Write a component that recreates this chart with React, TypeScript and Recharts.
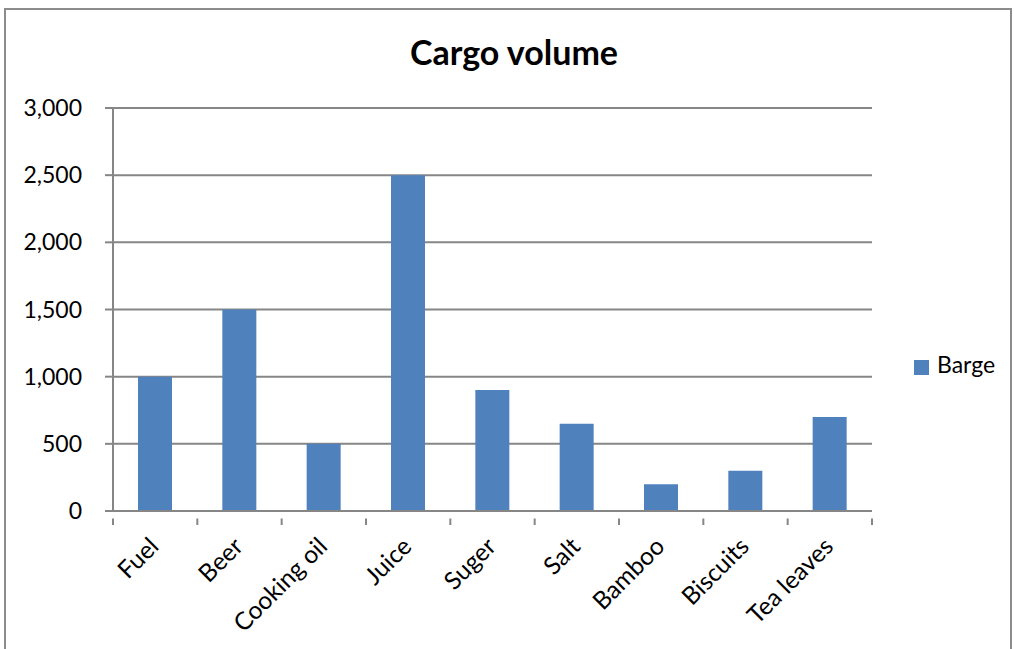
import React from 'react'
import { BarChart, Bar, XAxis, YAxis, CartesianGrid, Legend } from 'recharts'

const categories = ['Fuel', 'Beer', 'Cooking oil', 'Juice', 'Suger', 'Salt', 'Bamboo', 'Biscuits', 'Tea leaves']
const bargeValues = [1000, 1500, 500, 2500, 900, 650, 200, 300, 700]
const yTicks = [0, 500, 1000, 1500, 2000, 2500, 3000]

const data = categories.map((name, i) => ({ name, Barge: bargeValues[i] }))

const FONT = 'Lato, "Open Sans", sans-serif'
const GRID = '#868686'
const BAR = '#4F81BD'

// plot area in page pixels
const LEFT = 113
const RIGHT = 872
const TOP = 108
const BOTTOM = 511
const BAND = (RIGHT - LEFT) / categories.length
const LEGEND_W = 100

// Excel puts tick marks between categories, so draw them in the tick renderer
function CategoryTick(props: any) {
  const { x, y, payload, index } = props
  const last = index === categories.length - 1
  return (
    <g>
      <line x1={x - BAND / 2} y1={y - 0.5} x2={x - BAND / 2} y2={y + 6} stroke={GRID} strokeWidth={2} />
      {last && <line x1={x + BAND / 2} y1={y - 0.5} x2={x + BAND / 2} y2={y + 6} stroke={GRID} strokeWidth={2} />}
      <text
        x={x + 5}
        y={y + 29}
        textAnchor="end"
        transform={`rotate(-45, ${x + 5}, ${y + 29})`}
        fontFamily={FONT}
        fontSize={24.5}
        fill="#000"
      >
        {payload.value}
      </text>
    </g>
  )
}

export default function App() {
  return (
    <div style={{ position: 'absolute', left: 0, top: 0, width: 1014, height: 649, background: '#fff', overflow: 'hidden' }}>
      <div
        style={{
          position: 'absolute',
          left: 4,
          top: 8,
          width: 1004,
          height: 700,
          border: '2px solid #8c8c8c',
        }}
      />
      <div
        style={{
          position: 'absolute',
          left: 0,
          width: 1028,
          top: 30,
          textAlign: 'center',
          fontFamily: FONT,
          fontWeight: 700,
          fontSize: 34,
          lineHeight: '44px',
          color: '#000',
        }}
      >
        Cargo volume
      </div>
      <div style={{ position: 'absolute', left: 0, top: 0 }}>
        <BarChart
          width={1014}
          height={649}
          data={data}
          margin={{ top: TOP, left: LEFT - 100, right: 1014 - RIGHT - LEGEND_W, bottom: 649 - BOTTOM - 100 }}
          barSize={34}
        >
          <CartesianGrid vertical={false} stroke={GRID} strokeWidth={2} />
          <XAxis
            dataKey="name"
            height={100}
            interval={0}
            tickLine={false}
            axisLine={{ stroke: GRID, strokeWidth: 2 }}
            tick={<CategoryTick />}
          />
          <YAxis
            width={100}
            domain={[0, 3000]}
            ticks={yTicks}
            interval={0}
            tickSize={8}
            tickMargin={23}
            tickLine={{ stroke: GRID, strokeWidth: 2 }}
            axisLine={{ stroke: GRID, strokeWidth: 2 }}
            tickFormatter={(v: number) => v.toLocaleString('en-US')}
            tick={{ fill: '#000', fontSize: 23, fontFamily: FONT }}
          />
          <Legend
            layout="vertical"
            align="right"
            verticalAlign="top"
            iconType="square"
            iconSize={15}
            wrapperStyle={{ left: 914, top: 350, width: LEGEND_W, fontFamily: FONT, fontSize: 23 }}
            formatter={(value: string) => <span style={{ color: '#000', paddingLeft: 4 }}>{value}</span>}
          />
          <Bar dataKey="Barge" fill={BAR} isAnimationActive={false} />
        </BarChart>
      </div>
    </div>
  )
}
